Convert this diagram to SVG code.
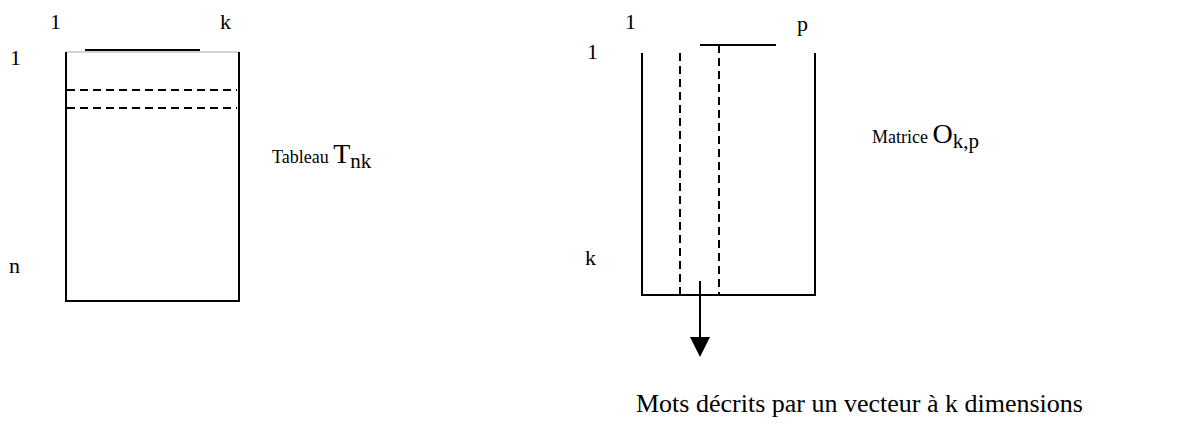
<svg xmlns="http://www.w3.org/2000/svg" width="1188" height="434" viewBox="0 0 1188 434">
<style>
  text { font-family: "Liberation Serif", "Times New Roman", serif; fill: #000; }
  .idx { font-size: 22px; }
  .lbl { font-size: 18px; }
  .big { font-size: 28px; }
  .sub { font-size: 21px; }
  .mots { font-size: 26px; }
  .edge { stroke: #000; stroke-width: 2; fill: none; }
  .thin { stroke: #aaa; stroke-width: 1; fill: none; }
  .dash { stroke: #000; stroke-width: 2; stroke-dasharray: 8 5; fill: none; }
</style>
<defs>
  <marker id="arrow" markerUnits="userSpaceOnUse" markerWidth="20" markerHeight="20" refX="0" refY="10" orient="auto" viewBox="0 0 20 20">
    <path d="M0,0 L20,10 L0,20 Z" fill="#000"/>
  </marker>
</defs>
<rect width="1188" height="434" fill="#fff"/>

<g id="tableau">
  <line class="thin" x1="66" y1="52" x2="239" y2="52"/>
  <path class="edge" d="M66,52 V301 H239 V52"/>
  <line class="edge" x1="85" y1="50" x2="200" y2="50"/>
  <line class="dash" x1="67" y1="90" x2="237" y2="90"/>
  <line class="dash" x1="67" y1="108" x2="237" y2="108"/>
  <text class="idx" x="50" y="29">1</text>
  <text class="idx" x="220" y="29">k</text>
  <text class="idx" x="10" y="65">1</text>
  <text class="idx" x="9" y="273">n</text>
  <text class="lbl" x="272" y="163">Tableau <tspan class="big">T</tspan><tspan class="sub" dy="5">nk</tspan></text>
</g>

<g id="matrice">
  <path class="edge" d="M642,53 V295 H815 V53"/>
  <line class="edge" x1="700" y1="45" x2="776" y2="45"/>
  <line class="dash" x1="680" y1="53" x2="680" y2="294"/>
  <line class="dash" x1="719" y1="45" x2="719" y2="294"/>
  <text class="idx" x="625" y="29">1</text>
  <text class="idx" x="797" y="31">p</text>
  <text class="idx" x="587" y="59">1</text>
  <text class="idx" x="585" y="265">k</text>
  <text class="lbl" x="872" y="143">Matrice <tspan class="big">O</tspan><tspan class="sub" dy="5">k,p</tspan></text>
</g>

<g id="connectors">
  <line class="edge" x1="700" y1="281" x2="700" y2="337" marker-end="url(#arrow)"/>
</g>

<g id="mots">
  <text class="mots" x="636" y="412">Mots décrits par un vecteur à k dimensions</text>
</g>
</svg>
